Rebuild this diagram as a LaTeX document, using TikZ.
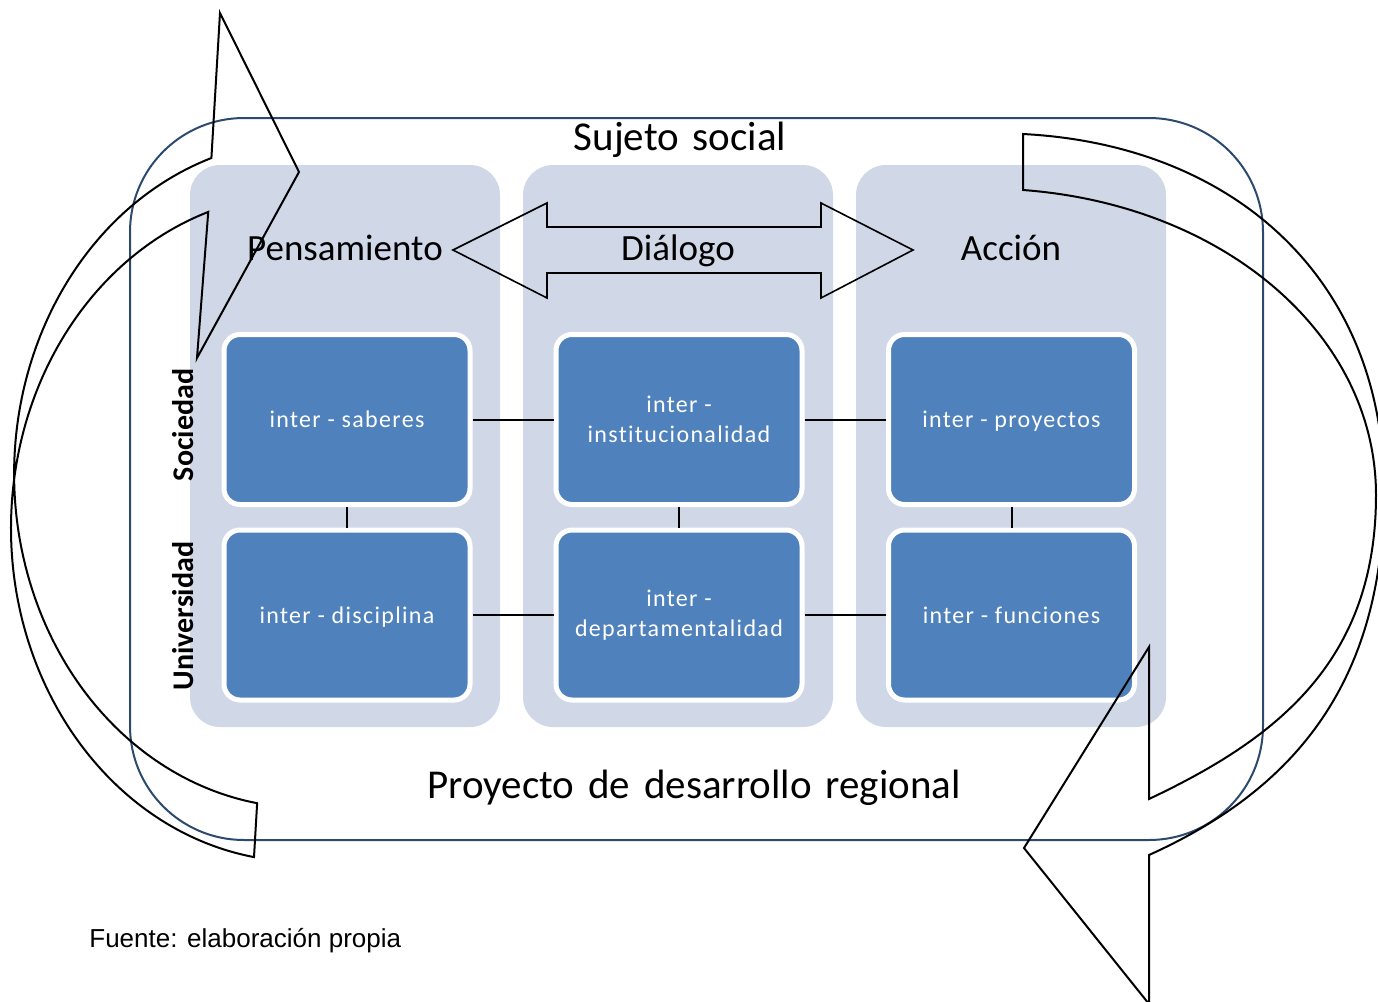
\documentclass[tikz,border=0pt]{standalone}
\usepackage{fontspec}
\setmainfont{Carlito}
\newfontfamily\boxfont[LetterSpace=5.5,Ligatures=NoCommon]{Carlito}
\newfontfamily\titlefont[WordSpace=1.5]{Carlito}
\newfontfamily\srcfont{Liberation Sans}
\definecolor{panel}{HTML}{D0D8E8}
\definecolor{boxblue}{HTML}{4F81BD}
\definecolor{frameblue}{HTML}{2C4A6E}
\begin{document}
\begin{tikzpicture}[x=0.5pt,y=-0.5pt,
 panelbox/.style={fill=panel, rounded corners=15pt, minimum width=155pt, minimum height=281pt, inner sep=0pt, outer sep=0pt},
 interbox/.style={fill=boxblue, draw=white, line width=2.5pt, rounded corners=8pt, minimum width=123pt, minimum height=85pt, inner sep=0pt, outer sep=0pt, text=white, font=\boxfont\fontsize{12}{15}\selectfont, align=center},
 oneline/.style={text height=8.3pt, text depth=0pt},
 title/.style={font=\fontsize{18.5}{22}\selectfont, anchor=base, inner sep=0pt},
 bigtitle/.style={font=\titlefont\fontsize{20.5}{24}\selectfont, anchor=base, inner sep=0pt},
 sidelabel/.style={font=\bfseries\fontsize{15}{18}\selectfont, rotate=90, inner sep=0pt},
 link/.style={draw=black, line width=1pt, shorten <=1.25pt, shorten >=1.25pt},
 outline/.style={draw=black, line width=1pt, line join=miter},
 dblarrow/.style={draw=black, line width=0.8pt, line join=miter},
]
\useasboundingbox (0,0) rectangle (1378,1002);
\clip (0,0) rectangle (1378,1002);

% outer frame
\node[draw=frameblue, line width=1pt, rounded corners=57pt, minimum width=566.5pt, minimum height=361pt, inner sep=0pt] (frame) at (696.5,479) {};

% panels
\node[panelbox] (pens) at (345,446) {};
\node[panelbox] (dial) at (678,446) {};
\node[panelbox] (acc) at (1011,446) {};

% boxes
\node[interbox, oneline] (sab) at (347,419.5) {inter - saberes};
\node[interbox] (inst) at (679,419.5) {inter -\\institucionalidad};
\node[interbox, oneline] (proy) at (1011.5,419.5) {inter - proyectos};
\node[interbox, oneline] (disc) at (347,615) {inter - disciplina};
\node[interbox] (dep) at (679,615) {inter -\\departamentalidad};
\node[interbox, oneline] (fun) at (1011.5,615) {inter - funciones};

% connectors
\draw[link] (sab.east) -- (inst.west);
\draw[link] (inst.east) -- (proy.west);
\draw[link] (disc.east) -- (dep.west);
\draw[link] (dep.east) -- (fun.west);
\draw[link] (sab.south) -- (disc.north);
\draw[link] (inst.south) -- (dep.north);
\draw[link] (proy.south) -- (fun.north);

% titles
\node[bigtitle] (tsuj) at (680,150) {Sujeto social};
\node[bigtitle] (tproy) at (694,798) {Proyecto de desarrollo regional};
\node[title] (tpens) at (345,260) {Pensamiento};
\node[title] (tdial) at (678,260) {Diálogo};
\node[title] (tacc) at (1011,260) {Acción};
\node[sidelabel] (lsoc) at (183,425) {Sociedad};
\node[sidelabel] (luni) at (183,616) {Universidad};
\node[font=\srcfont\fontsize{13}{15}\selectfont, anchor=base west, inner sep=0pt] (src) at (89,947) {Fuente: elaboración propia};

% double arrow
\draw[dblarrow] (453,250) -- (547,203) -- (547,227) -- (821,227) -- (821,203) -- (913,250)
  -- (821,298) -- (821,273) -- (547,273) -- (547,298) -- cycle;

% left curved arrow
\draw[outline] (211.4,158) arc[start angle=251.2, end angle=99.5, x radius=291, y radius=333.8]
  -- (254,857.1) arc[start angle=99.5, end angle=251.2, x radius=291, y radius=333.8]
  -- (197,358) -- (299,172) -- (220,13) -- cycle;

% right curved arrow
\draw[outline] (1023,134) .. controls (1235,145) and (1384,280) .. (1384,490)
  .. controls (1384,691) and (1286,793) .. (1149,855)
  -- (1149,1004) -- (1024,848) -- (1149,647) -- (1149,799)
  .. controls (1276,739) and (1376,662) .. (1376,495)
  .. controls (1376,335) and (1225,205) .. (1023,190) -- cycle;
\end{tikzpicture}
\end{document}
